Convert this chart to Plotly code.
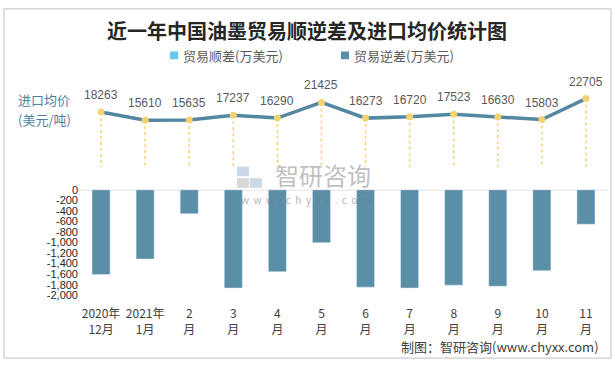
import plotly.graph_objects as go

# ---- data ----
categories = ["2020年<br>12月", "2021年<br>1月", "2<br>月", "3<br>月", "4<br>月", "5<br>月",
              "6<br>月", "7<br>月", "8<br>月", "9<br>月", "10<br>月", "11<br>月"]
surplus = [0, 0, 0, 0, 0, 0, 0, 0, 0, 0, 0, 0]
deficit = [-1609, -1315, -453, -1865, -1554, -1003, -1847, -1865, -1810, -1829, -1535, -654]
import_price = [18263, 15610, 15635, 17237, 16290, 21425, 16273, 16720, 17523, 16630, 15803, 22705]
bar_tickvals = [0, -200, -400, -600, -800, -1000, -1200, -1400, -1600, -1800, -2000]
bar_ticktext = ["0", "-200", "-400", "-600", "-800", "-1,000", "-1,200", "-1,400", "-1,600", "-1,800", "-2,000"]

W, H = 615, 367
ML, MR = 79, 7
PW = W - ML - MR


def xp(px):
    return (px - ML) / PW


def yp(py):
    return 1 - py / H


FONT = "Noto Sans CJK SC"
BAR_COLOR = "#5B8FA8"
SURPLUS_COLOR = "#66C9F2"
LINE_COLOR = "#5487A1"
YELLOW = "#F8D270"

fig = go.Figure()

fig.add_trace(go.Bar(x=categories, y=surplus, name="贸易顺差(万美元)", marker_color=SURPLUS_COLOR,
                     width=0.41, xaxis="x", yaxis="y", showlegend=False))
fig.add_trace(go.Bar(x=categories, y=deficit, name="贸易逆差(万美元)", marker_color=BAR_COLOR,
                     width=0.41, xaxis="x", yaxis="y", showlegend=False))

# dotted drop lines from each price point down to the zero of the price axis
dx, dy = [], []
for c, v in zip(categories, import_price):
    dx += [c, c, None]
    dy += [v, 0, None]
fig.add_trace(go.Scatter(x=dx, y=dy, mode="lines", line=dict(color=YELLOW, width=1.5, dash="dot"),
                         xaxis="x", yaxis="y2", showlegend=False, hoverinfo="skip"))
fig.add_trace(go.Scatter(x=categories, y=import_price, mode="lines", line=dict(color=LINE_COLOR, width=3.5),
                         xaxis="x", yaxis="y2", showlegend=False, name="进口均价(美元/吨)"))
fig.add_trace(go.Scatter(x=categories, y=import_price, mode="markers", marker=dict(color=YELLOW, size=7),
                         xaxis="x", yaxis="y2", showlegend=False, name="进口均价(美元/吨)"))

annotations = []
for c, v in zip(categories, import_price):
    annotations.append(dict(x=c, y=v, xref="x", yref="y2", text=str(v), showarrow=False,
                            yshift=17, font=dict(size=12, color="#595959", family="Liberation Sans")))

# title
annotations.append(dict(x=xp(307), y=yp(25), xref="paper", yref="paper", text="<b>近一年中国油墨贸易顺逆差及进口均价统计图</b>",
                        showarrow=False, font=dict(size=20, color="#262626", family=FONT),
                        xanchor="center", yanchor="middle"))
# legend
for lx, txt in [(181, "贸易顺差(万美元)"), (352, "贸易逆差(万美元)")]:
    annotations.append(dict(x=xp(lx), y=yp(51), xref="paper", yref="paper", text=txt, showarrow=False,
                            xanchor="left", yanchor="middle", font=dict(size=13, color="#595959", family=FONT)))
# price axis title
annotations.append(dict(x=xp(16), y=yp(97), xref="paper", yref="paper", text="进口均价", showarrow=False,
                        xanchor="left", yanchor="middle", font=dict(size=13, color="#4F7FA0", family=FONT)))
annotations.append(dict(x=xp(16), y=yp(117), xref="paper", yref="paper", text="(美元/吨)", showarrow=False,
                        xanchor="left", yanchor="middle", font=dict(size=13, color="#4F7FA0", family=FONT)))
# watermark
annotations.append(dict(x=xp(323), y=yp(174), xref="paper", yref="paper", text="智研咨询", showarrow=False,
                        xanchor="center", yanchor="middle", font=dict(size=24, color="rgba(170,170,170,0.75)", family=FONT)))
annotations.append(dict(x=xp(306), y=yp(200), xref="paper", yref="paper",
                        text="\u00a0\u00a0".join("www.chyxx.com"), showarrow=False,
                        xanchor="center", yanchor="middle", font=dict(size=10, color="rgba(120,120,120,0.6)", family=FONT)))
# source
annotations.append(dict(x=xp(601), y=yp(352), xref="paper", yref="paper", text="制图：智研咨询(www.chyxx.com)", showarrow=False,
                        xanchor="right", yanchor="middle", font=dict(size=13, color="#404040", family=FONT)))

shapes = [
    dict(type="rect", xref="paper", yref="paper", x0=xp(4), x1=xp(611), y0=yp(364), y1=yp(3),
         line=dict(color="#BFBFBF", width=1), fillcolor="rgba(0,0,0,0)", layer="below"),
    dict(type="line", xref="paper", yref="y", x0=0, x1=1, y0=0, y1=0, line=dict(color="#D9D9D9", width=1.5), layer="below"),
    dict(type="rect", xref="paper", yref="paper", x0=xp(170), x1=xp(178), y0=yp(55), y1=yp(47),
         fillcolor=SURPLUS_COLOR, line=dict(width=0)),
    dict(type="rect", xref="paper", yref="paper", x0=xp(341), x1=xp(349), y0=yp(55), y1=yp(47),
         fillcolor=BAR_COLOR, line=dict(width=0)),
    dict(type="rect", xref="paper", yref="paper", x0=xp(237), x1=xp(249), y0=yp(176), y1=yp(166),
         fillcolor="rgba(180,200,225,0.7)", line=dict(width=0), layer="below"),
    dict(type="rect", xref="paper", yref="paper", x0=xp(250), x1=xp(262), y0=yp(188), y1=yp(178),
         fillcolor="rgba(180,200,225,0.7)", line=dict(width=0), layer="below"),
    dict(type="rect", xref="paper", yref="paper", x0=xp(237), x1=xp(249), y0=yp(188), y1=yp(178),
         fillcolor="rgba(200,200,200,0.7)", line=dict(width=0), layer="below"),
]

fig.update_layout(
    width=W, height=H,
    margin=dict(l=ML, r=MR, t=0, b=0),
    paper_bgcolor="white", plot_bgcolor="white",
    font=dict(family=FONT, color="#404040"),
    barmode="overlay",
    showlegend=False,
    xaxis=dict(type="category", categoryorder="array", categoryarray=categories, anchor="y",
               domain=[0, 1], showline=False, showgrid=False, zeroline=False, ticks="",
               ticklabelstandoff=10,
               tickfont=dict(size=12, color="#404040", family=FONT), range=[-0.5, 11.5]),
    yaxis=dict(domain=[yp(299), yp(190)], range=[-2000, 0], tickvals=bar_tickvals, ticktext=bar_ticktext,
               showgrid=False, zeroline=False, showline=False, ticks="",
               tickfont=dict(size=11, color="#262626", family="Liberation Sans")),
    yaxis2=dict(domain=[yp(167), yp(88.5)], range=[0, 25000], visible=False, anchor="x"),
    annotations=annotations,
    shapes=shapes,
)

fig.write_html("out.html", config={"displayModeBar": False},
               post_script="document.body.style.margin='0';document.body.style.overflow='hidden';")
